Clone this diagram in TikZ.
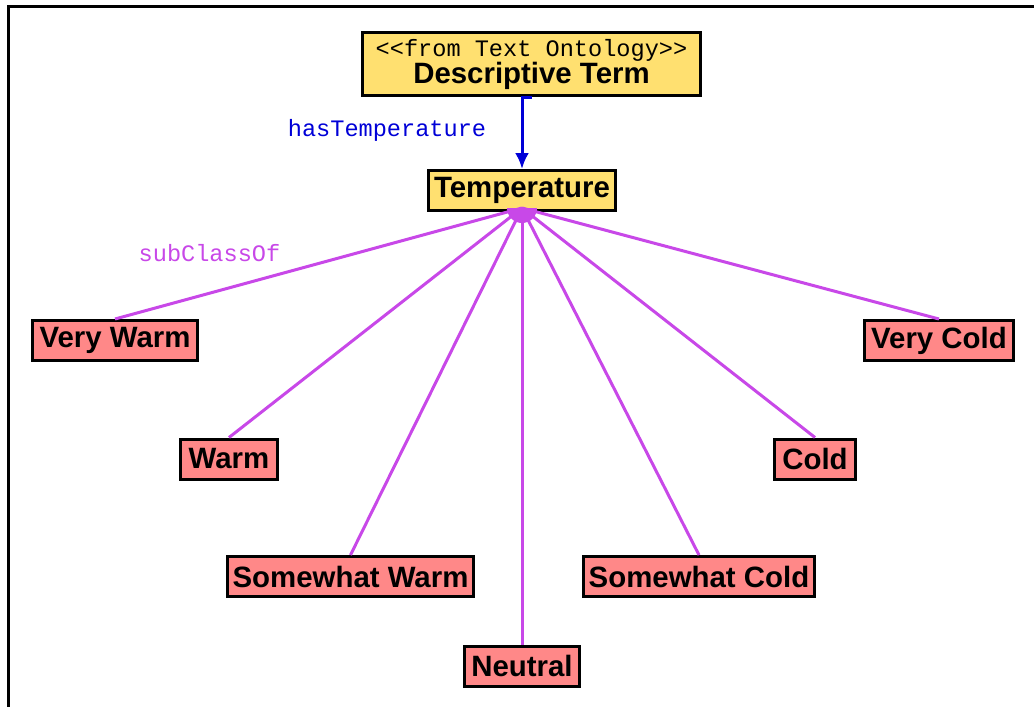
\documentclass[tikz,border=0pt]{standalone}
\usepackage{fontspec}
\setmainfont{Liberation Sans}
\newfontfamily\monofont{Liberation Mono}
\usetikzlibrary{arrows.meta}
\definecolor{termyellow}{RGB}{255,224,112}
\definecolor{valuepink}{RGB}{255,136,136}
\definecolor{isaviolet}{RGB}{200,72,232}
\definecolor{relblue}{RGB}{0,0,215}
\begin{document}
\begin{tikzpicture}[x=1pt,y=-1pt,
  classbox/.style={draw=black, line width=3pt, inner sep=0pt,
    minimum height=40pt, font=\fontsize{29.4}{34}\selectfont\bfseries},
  termbox/.style={classbox, fill=termyellow},
  valuebox/.style={classbox, fill=valuepink},
  monolabel/.style={font=\monofont\fontsize{23.6}{26}\selectfont, inner sep=0pt},
  isa/.style={draw=isaviolet, line width=3pt},
  rel/.style={draw=relblue, line width=3pt, -{Latex[length=16pt,width=14pt]}}]
\useasboundingbox (0,0) rectangle (1034,707);

% frame
\draw[line width=3pt] (1034,6.5) -- (8,6.5) -- (8,707);

% classes
\node[termbox, minimum width=338pt, minimum height=63pt, align=center] (dt) at (531.5,64)
  {{\monofont\mdseries\fontsize{23.6}{26}\selectfont <\kern0pt<from Text Ontology>\kern0pt>}\\[-7pt]Descriptive Term};
\node[termbox, minimum width=187pt] (temp) at (522,190.5) {Temperature};

\node[valuebox, minimum width=165pt] (vw) at (115,340.5) {Very Warm};
\node[valuebox, minimum width=97pt]  (w)  at (229,459) {Warm};
\node[valuebox, minimum width=246pt] (sw) at (350.5,576.5) {Somewhat Warm};
\node[valuebox, minimum width=115pt] (n)  at (522,666) {Neutral};
\node[valuebox, minimum width=231pt] (sc) at (699,576.5) {Somewhat Cold};
\node[valuebox, minimum width=81pt]  (c)  at (815,459) {Cold};
\node[valuebox, minimum width=149pt] (vc) at (939,340.5) {Very Cold};

% labels
\node[monolabel, text=relblue] (hasT) at (387,130) {hasTemperature};
\node[monolabel, text=isaviolet] (subc) at (209.5,253) {subClassOf};

% property arrow
\draw[rel] (dt.south) -- (temp.north |- dt.south) -- (temp.north);

% subclass links meeting at a common hub
\coordinate (hub) at (522,208);
\foreach \k in {vw,w,sw,n,sc,c,vc}
  \draw[isa] (hub) -- (\k.north);
\fill[isaviolet] (507,208) -- (537,208) arc[start angle=0, end angle=-180, radius=15pt] -- cycle;
\end{tikzpicture}
\end{document}
